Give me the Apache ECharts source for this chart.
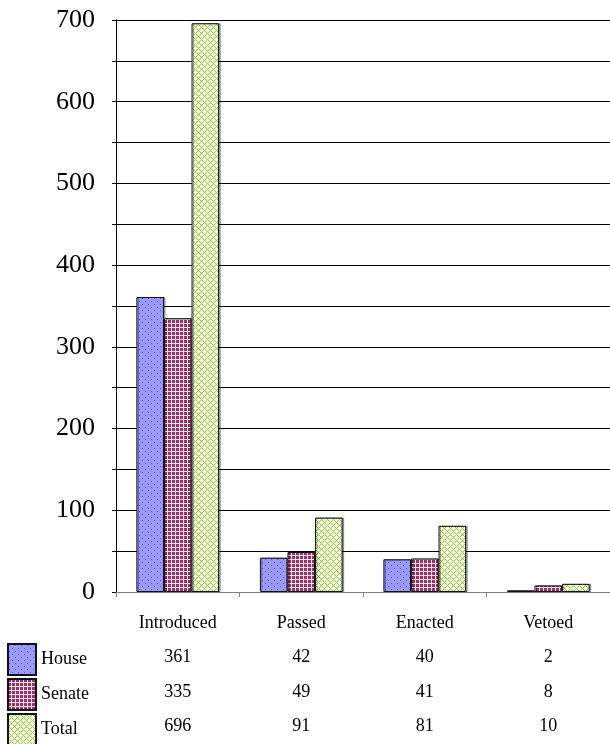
<!DOCTYPE html>
<html lang="en">
    <head>
        <meta charset="utf-8">
        <title>Bills</title>
        <script type="text/javascript" src="https://cdn.jsdelivr.net/npm/echarts@6/dist/echarts.min.js"></script>
        <style>
            html, body { margin: 0; padding: 0; background: #fff; }
            #chart { width: 610px; height: 744px; }
        </style>
    </head>
    <body>
        <div id="chart"></div>
        <script>
            // data
            var categories = ['Introduced', 'Passed', 'Enacted', 'Vetoed'];
            var seriesNames = ['House', 'Senate', 'Total'];
            var house = [361, 42, 40, 2];
            var senate = [335, 49, 41, 8];
            var total = [696, 91, 81, 10];

            var fontFamily = '"Liberation Serif", "Times New Roman", serif';

            // small canvas fill patterns, like the old Excel ones
            function makePattern(size, draw) {
                var c = document.createElement('canvas');
                c.width = size;
                c.height = size;
                draw(c.getContext('2d'), size);
                return { image: c, repeat: 'repeat' };
            }
            var housePattern = makePattern(6, function(ctx, s) {
                ctx.fillStyle = '#9999ff';
                ctx.fillRect(0, 0, s, s);
                ctx.fillStyle = '#5a5ac0';
                ctx.fillRect(1, 1, 1, 1);
                ctx.fillRect(4, 4, 1, 1);
            });
            var senatePattern = makePattern(4, function(ctx, s) {
                ctx.fillStyle = '#f5e1eb';
                ctx.fillRect(0, 0, s, s);
                ctx.fillStyle = '#993366';
                ctx.fillRect(0, 0, 3, 3);
            });
            var totalPattern = makePattern(6, function(ctx, s) {
                ctx.fillStyle = '#ffffcc';
                ctx.fillRect(0, 0, s, s);
                ctx.fillStyle = '#80c880';
                for (var x = 0; x < s; x++) {
                    for (var y = 0; y < s; y++) {
                        if ((x + y) % s === 0 || (x - y + s) % s === 0) {
                            ctx.fillRect(x, y, 1, 1);
                        }
                    }
                }
            });

            function barSeries(name, data, pattern) {
                return {
                    name: name,
                    type: 'bar',
                    data: data,
                    barGap: 0,
                    barCategoryGap: '33%',
                    itemStyle: {
                        color: pattern,
                        borderColor: '#111',
                        borderWidth: 1,
                        shadowColor: 'rgba(0,0,0,0.35)',
                        shadowOffsetX: 1.5,
                        shadowBlur: 0
                    },
                    emphasis: { disabled: true }
                };
            }

            // one legend per table row, so the keys line up with the value rows
            function legendRow(name, top) {
                return {
                    orient: 'vertical',
                    left: 7,
                    top: top,
                    padding: 0,
                    itemWidth: 28,
                    itemHeight: 31,
                    icon: 'rect',
                    selectedMode: false,
                    data: [name],
                    textStyle: { fontFamily: fontFamily, fontSize: 18, color: '#000' }
                };
            }

            var myChart = echarts.init(document.getElementById('chart'), null, { renderer: 'canvas' });
            var option = {
                animation: false,
                backgroundColor: '#fff',
                grid: { left: 116, right: 0, top: 20, bottom: 152, containLabel: false },
                legend: [
                    legendRow(seriesNames[0], 643),
                    legendRow(seriesNames[1], 678),
                    legendRow(seriesNames[2], 713)
                ],
                xAxis: {
                    type: 'category',
                    data: categories,
                    axisLine: { show: true, lineStyle: { color: '#808080', width: 1 } },
                    axisTick: { show: true, length: 5, lineStyle: { color: '#808080' } },
                    axisLabel: {
                        interval: 0,
                        margin: 14,
                        fontFamily: fontFamily,
                        fontSize: 18,
                        lineHeight: 34.5,
                        color: '#000',
                        formatter: function(val, idx) {
                            return [val, house[idx], senate[idx], total[idx]].join('\n');
                        }
                    },
                    splitLine: { show: false }
                },
                yAxis: {
                    type: 'value',
                    min: 0,
                    max: 700,
                    interval: 50,
                    axisLine: { show: true, lineStyle: { color: '#000', width: 1 } },
                    axisTick: { show: true, length: 4, lineStyle: { color: '#000' } },
                    axisLabel: {
                        margin: 21,
                        fontFamily: fontFamily,
                        fontSize: 26,
                        color: '#000',
                        formatter: function(v) { return v % 100 === 0 ? String(v) : ''; }
                    },
                    splitLine: { show: true, lineStyle: { color: '#000', width: 1 } }
                },
                series: [
                    barSeries(seriesNames[0], house, housePattern),
                    barSeries(seriesNames[1], senate, senatePattern),
                    barSeries(seriesNames[2], total, totalPattern)
                ]
            };
            myChart.setOption(option);
        </script>
    </body>
</html>
